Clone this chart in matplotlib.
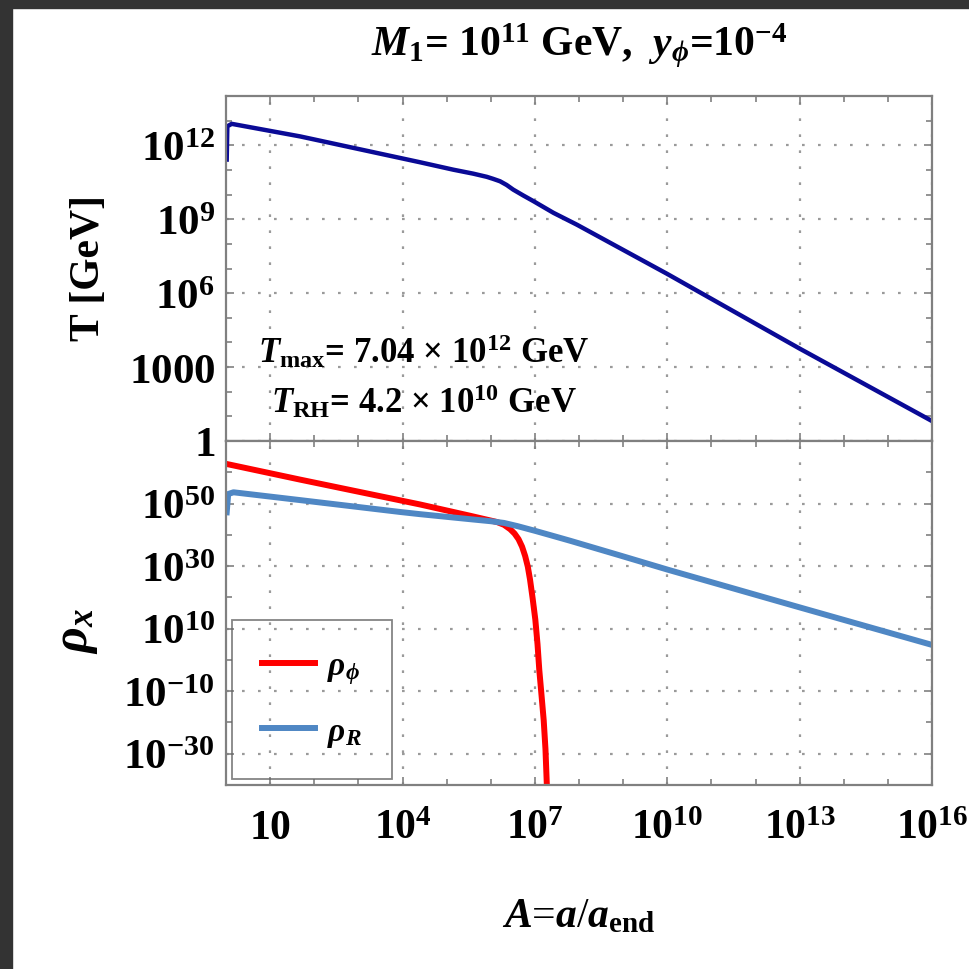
import matplotlib
matplotlib.use('Agg')
import matplotlib.pyplot as plt
import numpy as np
from matplotlib.patches import Rectangle
from matplotlib.ticker import FixedLocator, NullFormatter

plt.rcParams['font.family'] = ['Liberation Serif', 'DejaVu Serif']
plt.rcParams['font.weight'] = 'bold'
plt.rcParams['mathtext.fontset'] = 'custom'
plt.rcParams['mathtext.rm'] = 'Liberation Serif:bold'
plt.rcParams['mathtext.bf'] = 'Liberation Serif:bold'
plt.rcParams['mathtext.it'] = 'Liberation Serif:italic:bold'

# temperature as (log10 A, log10 T)
T_LOGA = [0.016, 0.03, 0.13, 1.68, 4.40, 5.15, 5.60, 5.91, 6.05, 6.21, 6.36, 6.51,
          6.74, 6.97, 7.42, 7.95, 10.0, 13.0, 16.0]
T_LOGT = [11.42, 12.77, 12.87, 12.36, 11.31, 11.01, 10.85, 10.72, 10.64, 10.54,
          10.39, 10.20, 9.96, 9.73, 9.26, 8.78, 6.78, 3.75, 0.81]

# inflaton energy density (log10 A, log10 rho_phi)
PHI_LOGA = [0.0, 1.68, 4.40, 5.53, 6.14, 6.30, 6.44, 6.54, 6.63, 6.71, 6.78, 6.84,
            6.89, 6.95, 7.01, 7.06, 7.10, 7.15, 7.20, 7.24, 7.27, 7.29]
PHI_LOGRHO = [62.7, 57.65, 49.7, 46.1, 44.1, 43.2, 41.8, 40.4, 38.6, 36.2, 33.2,
              29.8, 25.7, 19.6, 12.9, 5.0, -3.2, -11.2, -19.3, -28.5, -39.6, -45.0]

# radiation energy density (log10 A, log10 rho_R)
RAD_LOGA = [0.016, 0.05, 0.17, 1.68, 3.95, 4.40, 5.60, 6.00, 6.30, 6.60, 7.01, 7.40,
            7.80, 8.93, 10.0, 13.0, 16.0]
RAD_LOGRHO = [47.2, 53.05, 53.6, 51.1, 47.3, 46.6, 44.9, 44.35, 43.8, 42.8, 41.25,
              39.7, 38.1, 33.4, 28.9, 16.8, 4.8]

X_TICKS = [1e1, 1e4, 1e7, 1e10, 1e13, 1e16]
X_TICK_LABELS = ['$10$', '$10^{4}$', '$10^{7}$', '$10^{10}$', '$10^{13}$', '$10^{16}$']
T_TICKS = [1.0, 1e3, 1e6, 1e9, 1e12]
T_TICK_LABELS = ['$1$', '$1000$', '$10^{6}$', '$10^{9}$', '$10^{12}$']
RHO_TICKS = [1e-30, 1e-10, 1e10, 1e30, 1e50]
RHO_TICK_LABELS = ['$10^{-30}$', '$10^{-10}$', '$10^{10}$', '$10^{30}$', '$10^{50}$']

T_MAX_TEXT = r'$\mathit{T}_{\mathrm{max}}$= 7.04 $\times$ 10$^{12}$ GeV'
T_RH_TEXT = r'$\mathit{T}_{\mathrm{RH}}$= 4.2 $\times$ 10$^{10}$ GeV'

W, H = 969, 970
FRAME = '#808080'
GRID = '#9a9a9a'


def px_box(left, top, right, bottom):
    return [left / W, 1 - bottom / H, (right - left) / W, (bottom - top) / H]


def style_axis(ax, y_minor):
    ax.set_xscale('log')
    ax.set_yscale('log')
    for spine in ax.spines.values():
        spine.set_color(FRAME)
        spine.set_linewidth(1.6)
    ax.xaxis.set_major_locator(FixedLocator(X_TICKS))
    ax.xaxis.set_minor_locator(FixedLocator([10.0 ** k for k in range(0, 17)]))
    ax.yaxis.set_minor_locator(FixedLocator(y_minor))
    ax.xaxis.set_minor_formatter(NullFormatter())
    ax.yaxis.set_minor_formatter(NullFormatter())
    ax.tick_params(which='both', direction='in', top=True, right=True,
                   color=FRAME, width=1.2)
    ax.tick_params(which='major', length=6)
    ax.tick_params(which='minor', length=4)
    ax.tick_params(axis='y', labelsize=31, pad=8)
    ax.tick_params(axis='x', labelsize=30, pad=17)
    ax.grid(True, which='major', color=GRID, linestyle=(0, (1.2, 6)), linewidth=1.6)


fig = plt.figure(figsize=(W / 100, H / 100), dpi=100)
fig.patches.append(Rectangle((0, 0), 12 / W, 1, transform=fig.transFigure,
                             color='#333333', zorder=-5))
fig.patches.append(Rectangle((0, 1 - 9 / H), 1, 9 / H, transform=fig.transFigure,
                             color='#333333', zorder=-5))

ax_t = fig.add_axes(px_box(226, 97, 932, 442))
ax_r = fig.add_axes(px_box(226, 442, 932, 786))

# top panel: temperature
ax_t.plot(10.0 ** np.array(T_LOGA), 10.0 ** np.array(T_LOGT),
          color='#0a0a96', linewidth=3.2, solid_joinstyle='round')
style_axis(ax_t, [10.0 ** k for k in range(0, 15)])
ax_t.set_xlim(1, 1e16)
ax_t.set_ylim(1, 1e14)
ax_t.yaxis.set_major_locator(FixedLocator(T_TICKS))
ax_t.set_yticklabels(T_TICK_LABELS)
ax_t.tick_params(axis='x', labelbottom=False)
ax_t.set_ylabel('T [GeV]', fontsize=30, fontweight='bold', va='center')
ax_t.yaxis.set_label_coords(-0.194, 0.505)
ax_t.text(0.28, 0.26, T_MAX_TEXT, transform=ax_t.transAxes, fontsize=25,
          ha='center', va='center')
ax_t.text(0.28, 0.115, T_RH_TEXT, transform=ax_t.transAxes, fontsize=25,
          ha='center', va='center')

# bottom panel: energy densities
ax_r.plot(10.0 ** np.array(PHI_LOGA), 10.0 ** np.array(PHI_LOGRHO),
          color='#ff0000', linewidth=4.3, solid_joinstyle='round',
          label=r'$\rho_{\phi}$')
ax_r.plot(10.0 ** np.array(RAD_LOGA), 10.0 ** np.array(RAD_LOGRHO),
          color='#4f87c4', linewidth=4.3, solid_joinstyle='round',
          label=r'$\rho_{R}$')
style_axis(ax_r, [10.0 ** k for k in range(-40, 71, 10)])
ax_r.set_xlim(1, 1e16)
ax_r.set_ylim(1e-40, 1e70)
ax_r.yaxis.set_major_locator(FixedLocator(RHO_TICKS))
ax_r.set_yticklabels(RHO_TICK_LABELS)
ax_r.set_xticklabels(X_TICK_LABELS)
ax_r.set_ylabel(r'$\rho_x$', fontsize=36, va='center')
ax_r.yaxis.set_label_coords(-0.212, 0.45)
ax_r.set_xlabel(r'$A$=$a$/$a_{\mathrm{end}}$', fontsize=30, labelpad=36)

leg = ax_r.legend(loc='lower left', bbox_to_anchor=(0.0085, 0.0175), fontsize=24,
                  handlelength=1.6, handletextpad=0.35, labelspacing=0.9,
                  borderpad=0.9, fancybox=False, borderaxespad=0)
leg.get_frame().set_facecolor('none')
leg.get_frame().set_edgecolor('#666666')
leg.get_frame().set_linewidth(1.3)

fig.text(579 / W, 1 - 46 / H, r'$M_1$= 10$^{11}$ GeV,  $y_{\phi}$=10$^{-4}$',
         fontsize=30, ha='center', va='center')

fig.savefig('out.png', dpi=100)
